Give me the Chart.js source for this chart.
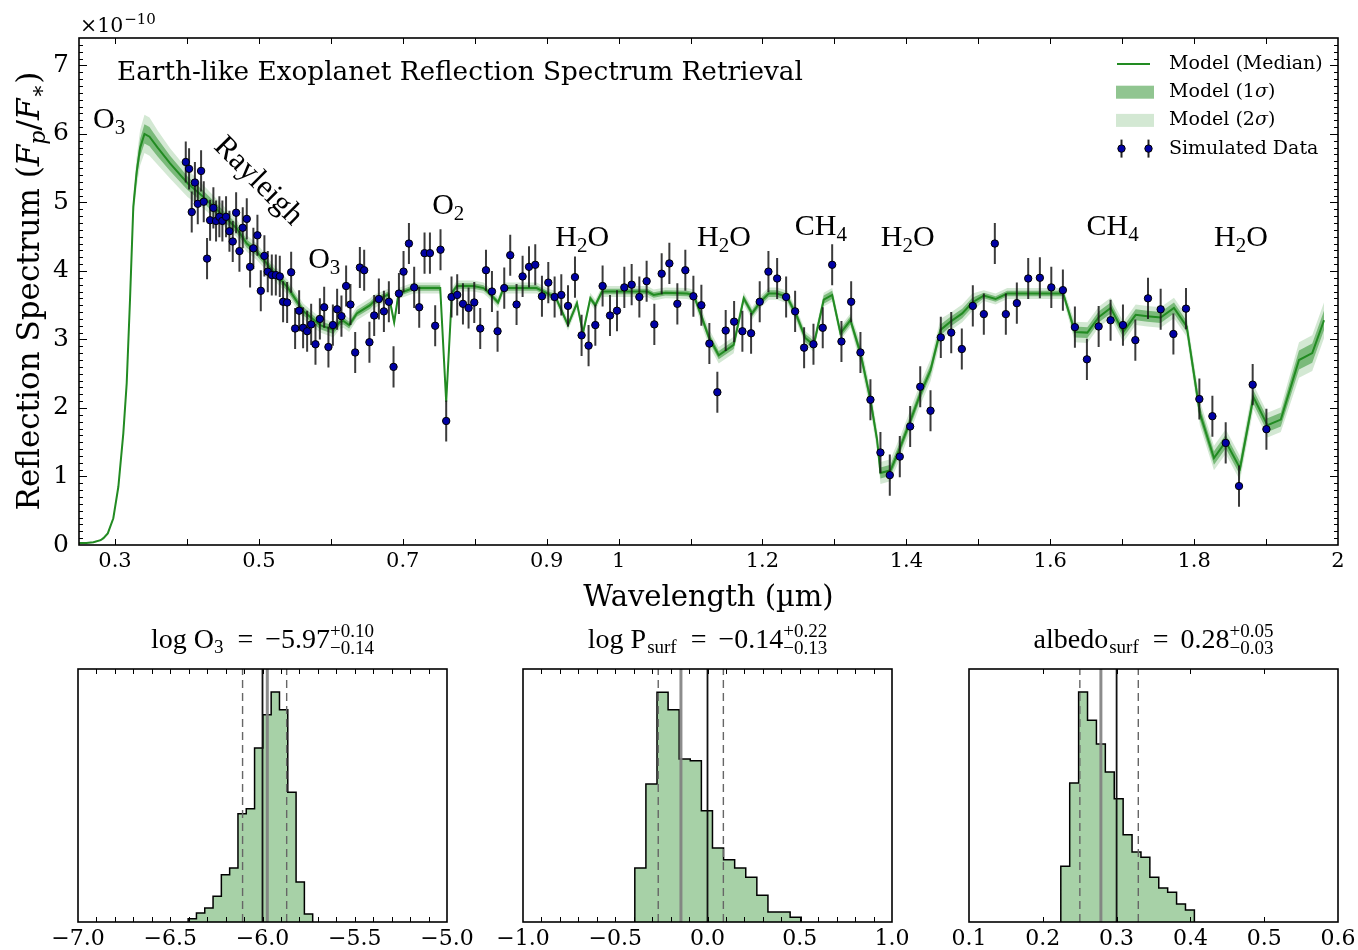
<!DOCTYPE html>
<html><head><meta charset="utf-8">
<script src="https://cdn.jsdelivr.net/npm/chart.js@4.4.1/dist/chart.umd.min.js"></script>
<style>
html,body{margin:0;padding:0;background:#fff;width:1358px;height:950px;overflow:hidden;position:relative;}
canvas{position:absolute;}
</style></head><body>
<canvas id="c0" width="1358" height="615" style="left:0;top:0"></canvas>
<canvas id="h1" width="450" height="360" style="left:38px;top:600px"></canvas>
<canvas id="h2" width="450" height="360" style="left:483px;top:600px"></canvas>
<canvas id="h3" width="450" height="360" style="left:929px;top:600px"></canvas>
<script>
// ---------------- DATA ----------------
const X_TICK_LABELS = [0.3,0.5,0.7,0.9,1,1.2,1.4,1.6,1.8,2];
const Y_TICK_LABELS = [0,1,2,3,4,5,6,7];

// model median (units of 1e-10) and half-widths of 1σ / 2σ bands
const MODEL_WL = [
 0.25,0.26,0.27,0.28,0.284,0.29,
 0.2977,0.3047,0.3116,0.3163,0.3209,0.3255,0.3302,0.335,0.341,0.348,0.3593,0.3766,0.4009,0.4229,0.4693,0.4832,0.4971,0.511,0.5157,0.54,0.562,0.5852,0.6037,
 0.613,0.6176,0.6255,0.6362,0.6408,0.6547,0.6593,
 0.6802,0.6881,0.6941,0.7149,0.7521,
 0.7604,
 0.7684,0.7753,0.7984,0.8123,0.818,0.8325,0.8402,0.886,0.905,0.912,0.9297,0.9422,0.9505,0.9607,0.9677,0.977,1.04,1.0488,1.065,1.0952,1.1044,
 1.1137,1.1253,1.1392,1.16,
 1.174,1.1856,1.1972,1.2087,1.2204,1.2343,
 1.2482,1.2597,1.2713,1.2852,1.2969,1.3084,1.3223,
 1.3362,1.3501,1.3594,1.364,1.378,1.392,1.4058,1.4197,1.4336,1.4475,
 1.4614,1.4777,1.4916,
 1.5077,1.524,1.5403,1.618,
 1.6343,1.6516,1.6677,1.684,1.7016,1.7188,1.735,1.7535,1.772,1.7897,
 1.8081,1.8276,1.8439,1.8638,1.8824,1.9019,1.9205,
 1.9458,1.9642,1.9806];
const MODEL_MED = [
 0.03,0.03,0.04,0.07,0.10,0.17,
 0.39,0.85,1.63,2.36,3.58,4.94,5.45,5.80,6.00,5.96,5.80,5.57,5.28,5.08,4.62,4.40,4.28,4.11,4.04,3.76,3.41,3.21,3.14,
 3.26,3.27,3.21,3.38,3.41,3.50,3.55,
 3.66,3.25,3.67,3.75,3.75,
 2.09,
 3.68,3.78,3.78,3.75,3.70,3.54,3.75,3.75,3.65,3.63,3.21,3.53,3.09,3.60,3.50,3.70,3.70,3.65,3.68,3.67,3.65,
 3.38,3.04,2.77,2.92,
 3.60,3.38,3.55,3.67,3.67,3.62,
 3.33,3.02,2.92,3.58,3.65,3.09,3.28,
 2.80,2.12,1.53,1.05,1.09,1.44,1.82,2.21,2.55,3.14,
 3.26,3.38,3.54,
 3.64,3.59,3.67,3.67,
 3.11,3.10,3.33,3.46,3.11,3.36,3.34,3.32,3.46,3.19,
 1.92,1.27,1.51,1.12,2.16,1.75,1.83,
 2.70,2.80,3.28];
const MODEL_S1 = [
 0.005,0.005,0.005,0.005,0.005,0.008,
 0.01,0.02,0.03,0.04,0.06,0.08,0.11,0.13,0.14,0.14,0.13,0.11,0.10,0.09,0.07,0.06,0.06,0.06,0.06,0.06,0.06,0.06,0.06,
 0.05,0.05,0.05,0.05,0.05,0.05,0.05,
 0.04,0.04,0.04,0.04,0.04,
 0.05,
 0.04,0.04,0.04,0.04,0.04,0.04,0.04,0.04,0.04,0.04,0.04,0.04,0.04,0.04,0.04,0.04,0.04,0.04,0.04,0.04,0.04,
 0.06,0.06,0.06,0.06,
 0.05,0.05,0.05,0.05,0.05,0.05,
 0.06,0.06,0.06,0.06,0.06,0.06,0.06,
 0.08,0.08,0.08,0.08,0.08,0.08,0.08,0.08,0.08,0.08,
 0.07,0.07,0.07,
 0.04,0.04,0.04,0.04,
 0.08,0.08,0.08,0.08,0.08,0.08,0.08,0.08,0.08,0.08,
 0.10,0.10,0.10,0.10,0.10,0.10,0.10,
 0.14,0.14,0.14];
const MODEL_S2 = [
 0.01,0.01,0.01,0.01,0.01,0.015,
 0.02,0.04,0.06,0.08,0.12,0.17,0.22,0.26,0.28,0.28,0.25,0.22,0.20,0.17,0.13,0.12,0.12,0.11,0.11,0.11,0.11,0.11,0.11,
 0.10,0.10,0.10,0.10,0.10,0.10,0.10,
 0.08,0.08,0.08,0.08,0.08,
 0.10,
 0.08,0.08,0.08,0.08,0.08,0.08,0.08,0.08,0.08,0.08,0.08,0.08,0.08,0.08,0.08,0.08,0.08,0.08,0.08,0.08,0.08,
 0.12,0.12,0.12,0.12,
 0.09,0.09,0.09,0.09,0.09,0.09,
 0.10,0.10,0.10,0.10,0.10,0.10,0.10,
 0.16,0.16,0.16,0.16,0.16,0.16,0.16,0.16,0.16,0.16,
 0.13,0.13,0.13,
 0.08,0.08,0.08,0.08,
 0.15,0.15,0.15,0.15,0.15,0.15,0.15,0.15,0.15,0.15,
 0.18,0.18,0.18,0.18,0.18,0.18,0.18,
 0.26,0.26,0.26];

// simulated data
const DATA_WL = [
 0.3984,0.4030,0.4067,0.4111,0.4151,0.4197,0.4234,0.4280,0.4322,0.4368,
 0.4405,0.4451,0.4493,0.4544,0.4591,0.4637,0.4684,0.4730,0.4776,0.4832,
 0.4878,0.4924,0.4980,0.5027,0.5077,0.5124,0.5180,0.5236,0.5291,0.5337,
 0.5393,0.5449,0.5504,0.5560,0.5615,0.5671,0.5727,0.5787,0.5848,0.5908,
 0.5967,0.6029,0.6088,0.6148,0.6213,0.6273,0.6339,0.6404,0.6464,0.6537,
 0.6603,0.6668,0.6738,0.6807,0.6872,0.6947,0.7011,0.7086,0.7159,0.7229,
 0.7303,0.7378,0.7451,0.7525,0.7604,0.7678,0.7757,0.7837,0.7915,0.7994,
 0.8077,0.8157,0.8240,0.8318,0.8411,0.8494,0.8582,0.8666,0.8755,0.8842,
 0.8935,0.9023,0.9111,0.9204,0.9297,0.9394,0.9486,0.9583,0.9677,0.9778,
 0.9881,0.9978,1.0080,1.0182,1.0289,1.0390,1.0497,1.0599,1.0706,1.0817,
 1.0928,1.1040,1.1151,1.1262,1.1373,1.1489,1.1606,1.1721,1.1842,1.1962,
 1.2083,1.2204,1.2329,1.2454,1.2579,1.2709,1.2838,1.2969,1.3098,1.3233,
 1.3362,1.3501,1.3640,1.3770,1.3909,1.4053,1.4193,1.4336,1.4479,1.4624,
 1.4771,1.4924,1.5077,1.5230,1.5383,1.5536,1.5694,1.5856,1.6015,1.6176,
 1.6343,1.6510,1.6673,1.6839,1.7011,1.7183,1.7359,1.7535,1.7712,1.7887,
 1.8073,1.8254,1.8439,1.8624,1.8814,1.9005];
const DATA_VAL = [
 5.59,5.49,4.86,5.29,4.98,5.46,5.01,4.18,4.74,4.92,
 4.73,4.79,4.73,4.79,4.58,4.43,4.85,4.29,4.63,4.76,
 4.06,4.33,4.52,3.71,4.22,3.99,3.94,3.94,3.92,3.55,
 3.54,3.98,3.16,3.42,3.17,3.12,3.22,2.93,3.30,3.47,
 2.89,3.21,3.44,3.34,3.78,3.51,2.81,4.05,4.01,2.96,
 3.35,3.59,3.41,3.55,2.60,3.67,3.99,4.40,3.76,3.47,
 4.26,4.26,3.20,4.31,1.81,3.62,3.65,3.52,3.46,3.54,
 3.16,4.01,3.70,3.12,3.75,4.23,3.51,3.92,4.06,4.09,
 3.63,3.83,3.62,3.65,3.49,3.91,3.06,2.91,3.21,3.78,
 3.35,3.42,3.76,3.80,3.62,3.85,3.22,3.96,4.11,3.52,
 4.01,3.63,3.50,2.94,2.23,3.13,3.26,3.12,3.09,3.55,
 3.99,3.89,3.62,3.41,2.88,2.93,3.17,4.09,2.97,3.55,
 2.81,2.12,1.35,1.02,1.29,1.73,2.31,1.96,3.03,3.10,
 2.86,3.49,3.37,4.40,3.37,3.53,3.89,3.90,3.76,3.72,
 3.18,2.71,3.19,3.28,3.21,2.99,3.60,3.44,3.08,3.45,
 2.13,1.88,1.49,0.86,2.34,1.69];
const DATA_ERR = 0.30;

// posterior histograms (15 bins each, relative counts)
const HIST_YMAX = 759;
const H1 = {lo:-6.403, hi:-5.728, counts:[10,27,42,77,142,162,325,340,522,622,690,637,389,120,24],
            ci:[-6.108,-5.869], median:-5.974, truth:-6.0, xmin:-7, xmax:-5, labels:[-7,-6.5,-6,-5.5,-5]};
const H2 = {lo:-0.394, hi:0.508, counts:[162,414,689,637,489,484,334,222,187,162,134,80,30,30,14],
            ci:[-0.267,0.086], median:-0.144, truth:0.0, xmin:-1, xmax:1, labels:[-1,-0.5,0,0.5,1]};
const H3 = {lo:0.2244, hi:0.4054, counts:[167,417,690,605,534,450,370,262,210,194,134,102,89,54,36],
            ci:[0.2502,0.3294], median:0.2787, truth:0.30, xmin:0.1, xmax:0.6, labels:[0.1,0.2,0.3,0.4,0.5,0.6]};

// ---------------- STYLE ----------------
const DV = "'DejaVu Serif', serif";
const TM = "'Liberation Serif', 'Times New Roman', serif";
const GREEN = '#228B22';
const C1 = 'rgba(34,139,34,0.5)';
const C2 = 'rgba(34,139,34,0.2)';
Chart.defaults.font.family = DV;
Chart.defaults.color = '#000';

function drawRich(ctx, parts, x, y, align) {
  let w = 0;
  for (const p of parts) {
    ctx.font = p.f;
    if (p.stack) p._w = Math.max(ctx.measureText(p.stack[0]).width, ctx.measureText(p.stack[1]).width);
    else p._w = ctx.measureText(p.t).width;
    w += p._w + (p.gb || 0) + (p.ga || 0);
  }
  let cx = align === 'center' ? x - w / 2 : (align === 'right' ? x - w : x);
  ctx.textAlign = 'left';
  for (const p of parts) {
    ctx.font = p.f;
    cx += (p.gb || 0);
    if (p.stack) { ctx.fillText(p.stack[0], cx, y + p.supDy); ctx.fillText(p.stack[1], cx, y + p.subDy); }
    else ctx.fillText(p.t, cx, y + (p.dy || 0));
    cx += p._w + (p.ga || 0);
  }
}

const AF = '30px ' + TM, AS = '21px ' + TM;
const H2O = [{t:'H', f:AF},{t:'2', f:AS, dy:6},{t:'O', f:AF}];
const CH4 = [{t:'CH', f:AF},{t:'4', f:AS, dy:6}];
const O3 = [{t:'O', f:AF},{t:'3', f:AS, dy:6}];
const O2 = [{t:'O', f:AF},{t:'2', f:AS, dy:6}];
const ANNOTATIONS = [
  {parts:O3, wl:0.2695, v:6.09},
  {parts:O3, wl:0.5685, v:4.04},
  {parts:O2, wl:0.7409, v:4.83},
  {parts:H2O, wl:0.9121, v:4.36},
  {parts:H2O, wl:1.1091, v:4.36},
  {parts:CH4, wl:1.2449, v:4.53},
  {parts:H2O, wl:1.3645, v:4.36},
  {parts:CH4, wl:1.6504, v:4.53},
  {parts:H2O, wl:1.8276, v:4.36}
];
const RAYLEIGH = {text:'Rayleigh', wl:0.4989, v:5.31, rot:Math.PI/4};

// ---------------- MAIN CHART ----------------
const line = (wl, vals) => wl.map((w, i) => ({x:w, y:vals[i]}));
const band = (sign, s) => MODEL_WL.map((w, i) => ({x:w, y:MODEL_MED[i] + sign * s[i]}));
const errData = [];
DATA_WL.forEach((w, i) => {
  errData.push({x:w, y:DATA_VAL[i] - DATA_ERR}, {x:w, y:DATA_VAL[i] + DATA_ERR}, {x:w, y:null});
});
const hidden = {borderWidth:0, borderColor:'rgba(0,0,0,0)', pointRadius:0, tension:0};

const mainDecor = {
  id:'mainDecor',
  afterDraw(chart) {
    const {ctx, chartArea:a, scales:{x, y}} = chart;
    ctx.save();
    ctx.fillStyle = '#000'; ctx.strokeStyle = '#000';
    // ticks
    ctx.lineWidth = 1;
    ctx.beginPath();
    for (let i = 3; i < 20; i++) {
      const px = Math.round(x.getPixelForValue(i / 10)) + 0.5;
      ctx.moveTo(px, a.bottom); ctx.lineTo(px, a.bottom - 6);
      ctx.moveTo(px, a.top); ctx.lineTo(px, a.top + 6);
    }
    for (let i = 1; i < 74; i++) {
      const L = i % 10 === 0 ? 8 : 4;
      const py = Math.round(y.getPixelForValue(i / 10)) + 0.5;
      ctx.moveTo(a.left, py); ctx.lineTo(a.left + L, py);
      ctx.moveTo(a.right, py); ctx.lineTo(a.right - L, py);
    }
    ctx.stroke();
    ctx.lineWidth = 1.6;
    ctx.strokeRect(a.left, a.top, a.right - a.left, a.bottom - a.top);

    // offset text
    ctx.textBaseline = 'alphabetic';
    drawRich(ctx, [{t:'\u00d710', f:'20.5px ' + DV}, {t:'\u221210', f:'15px ' + DV, dy:-8, gb:1}], 80, 32, 'left');

    // title
    ctx.font = '26.3px ' + DV;
    ctx.textAlign = 'left';
    ctx.fillText('Earth-like Exoplanet Reflection Spectrum Retrieval', 117, 80);

    // annotations
    for (const an of ANNOTATIONS) {
      drawRich(ctx, an.parts, x.getPixelForValue(an.wl), y.getPixelForValue(an.v), 'left');
    }
    ctx.save();
    ctx.translate(x.getPixelForValue(RAYLEIGH.wl), y.getPixelForValue(RAYLEIGH.v));
    ctx.rotate(RAYLEIGH.rot);
    ctx.font = '31px ' + TM; ctx.textAlign = 'center'; ctx.textBaseline = 'middle';
    ctx.fillText(RAYLEIGH.text, 0, 0);
    ctx.restore();

    // axis titles
    ctx.textBaseline = 'alphabetic';
    ctx.font = '29px ' + DV; ctx.textAlign = 'center';
    ctx.fillText('Wavelength (\u00b5m)', (a.left + a.right) / 2, 606);
    ctx.save();
    ctx.translate(39, 291);
    ctx.rotate(-Math.PI / 2);
    const YF = '31px ' + DV, YI = 'italic 31px ' + DV, YS = 'italic 22px ' + DV;
    drawRich(ctx, [{t:'Reflection Spectrum (', f:YF}, {t:'F', f:YI}, {t:'p', f:YS, dy:6},
                   {t:'/', f:YF}, {t:'F', f:YI}, {t:'\u2217', f:'22px ' + DV, dy:6}, {t:')', f:YF}], 0, 0, 'center');
    ctx.restore();

    // legend
    const LT = 1169, rows = [64, 92.2, 120.4, 148.6];
    ctx.strokeStyle = GREEN; ctx.lineWidth = 2;
    ctx.beginPath(); ctx.moveTo(1117, rows[0]); ctx.lineTo(1150, rows[0]); ctx.stroke();
    ctx.fillStyle = C1; ctx.fillRect(1116, rows[1] - 6.5, 38, 13);
    ctx.fillStyle = C2; ctx.fillRect(1116, rows[2] - 6.5, 38, 13);
    for (const mx of [1121.5, 1148.5]) {
      ctx.strokeStyle = '#222'; ctx.lineWidth = 2;
      ctx.beginPath(); ctx.moveTo(mx, rows[3] - 9); ctx.lineTo(mx, rows[3] + 9); ctx.stroke();
      ctx.beginPath(); ctx.arc(mx, rows[3], 3.7, 0, Math.PI * 2);
      ctx.fillStyle = '#0000a5'; ctx.fill(); ctx.lineWidth = 1; ctx.strokeStyle = '#000'; ctx.stroke();
    }
    ctx.fillStyle = '#000'; ctx.textBaseline = 'middle';
    const LF = '19px ' + DV, LI = 'italic 19px ' + DV;
    drawRich(ctx, [{t:'Model (Median)', f:LF}], LT, rows[0], 'left');
    drawRich(ctx, [{t:'Model (1', f:LF}, {t:'\u03c3', f:LI}, {t:')', f:LF}], LT, rows[1], 'left');
    drawRich(ctx, [{t:'Model (2', f:LF}, {t:'\u03c3', f:LI}, {t:')', f:LF}], LT, rows[2], 'left');
    drawRich(ctx, [{t:'Simulated Data', f:LF}], LT, rows[3], 'left');
    ctx.restore();
  }
};

new Chart(document.getElementById('c0'), {
  type:'line',
  data:{datasets:[
    Object.assign({data:band(-1, MODEL_S2), order:4}, hidden),
    Object.assign({data:band(1, MODEL_S2), order:4, fill:'-1', backgroundColor:C2}, hidden),
    Object.assign({data:band(-1, MODEL_S1), order:3}, hidden),
    Object.assign({data:band(1, MODEL_S1), order:3, fill:'-1', backgroundColor:C1}, hidden),
    {data:line(MODEL_WL, MODEL_MED), borderColor:GREEN, borderWidth:2, pointRadius:0, tension:0, order:2},
    {data:errData, borderColor:'rgba(25,25,25,0.85)', borderWidth:2, pointRadius:0, spanGaps:false, tension:0, order:1},
    {data:line(DATA_WL, DATA_VAL), showLine:false, pointRadius:3.7, pointBackgroundColor:'#0000a5',
     pointBorderColor:'#000', pointBorderWidth:1, order:0}
  ]},
  options:{
    responsive:false, animation:false, events:[],
    layout:{padding:{left:0, right:20, top:38, bottom:0}, autoPadding:false},
    plugins:{legend:{display:false}, tooltip:{enabled:false}},
    scales:{
      x:{type:'linear', min:0.25, max:2.0,
         grid:{display:false, drawTicks:false}, border:{display:false},
         afterBuildTicks:s => { s.ticks = X_TICK_LABELS.map(v => ({value:v})); },
         afterFit:s => { s.height = 70; },
         ticks:{color:'#000', font:{family:DV, size:21}, padding:4, autoSkip:false, maxRotation:0, minRotation:0,
                callback:v => String(v)}},
      y:{type:'linear', min:0, max:7.4,
         grid:{display:false, drawTicks:false}, border:{display:false},
         afterBuildTicks:s => { s.ticks = Y_TICK_LABELS.map(v => ({value:v})); },
         afterFit:s => { s.width = 79; },
         ticks:{color:'#000', font:{family:DV, size:25}, padding:10, autoSkip:false, callback:v => String(v)}}
    }
  },
  plugins:[mainDecor]
});

// ---------------- HISTOGRAMS ----------------
const TT = '28px ' + TM, TS = '19px ' + TM;
const TITLES = [
  [{t:'log O', f:TT}, {t:'3', f:TS, dy:5}, {t:'=', f:TT, gb:14, ga:12}, {t:'\u22125.97', f:TT},
   {stack:['+0.10', '\u22120.14'], f:TS, supDy:-11, subDy:6}],
  [{t:'log P', f:TT}, {t:'surf', f:TS, dy:5, gb:1}, {t:'=', f:TT, gb:14, ga:12}, {t:'\u22120.14', f:TT},
   {stack:['+0.22', '\u22120.13'], f:TS, supDy:-11, subDy:6}],
  [{t:'albedo', f:TT}, {t:'surf', f:TS, dy:5, gb:1}, {t:'=', f:TT, gb:14, ga:12}, {t:'0.28', f:TT},
   {stack:['+0.05', '\u22120.03'], f:TS, supDy:-11, subDy:6}]
];
const fmt1 = v => (v < 0 ? '\u2212' : '') + Math.abs(v).toFixed(1);

function makeHist(id, H, title) {
  const n = H.counts.length;
  const edges = [];
  for (let i = 0; i <= n; i++) edges.push(H.lo + i * (H.hi - H.lo) / n);
  // step outline: horizontal at previous height, then vertical to the next
  const step = [{x:edges[0], y:0}];
  H.counts.forEach((c, i) => step.push({x:edges[i], y:c}));
  step.push({x:edges[n], y:H.counts[n - 1]});
  step.push({x:edges[n], y:0});
  const vline = v => [{x:v, y:0}, {x:v, y:HIST_YMAX}];
  const decor = {
    id:'histDecor',
    afterDraw(chart) {
      const {ctx, chartArea:a, scales:{x}} = chart;
      ctx.save();
      ctx.strokeStyle = '#000'; ctx.lineWidth = 1;
      ctx.beginPath();
      const nt = Math.round((H.xmax - H.xmin) / 0.1);
      for (let i = 1; i < nt; i++) {
        const px = Math.round(x.getPixelForValue(H.xmin + i * 0.1)) + 0.5;
        ctx.moveTo(px, a.bottom); ctx.lineTo(px, a.bottom - 5);
        ctx.moveTo(px, a.top); ctx.lineTo(px, a.top + 5);
      }
      ctx.stroke();
      ctx.lineWidth = 1.6;
      ctx.strokeRect(a.left, a.top, a.right - a.left, a.bottom - a.top);
      ctx.fillStyle = '#000'; ctx.textBaseline = 'alphabetic';
      drawRich(ctx, title, (a.left + a.right) / 2, 48, 'center');
      ctx.restore();
    }
  };
  new Chart(document.getElementById(id), {
    type:'line',
    data:{datasets:[
      {data:vline(H.median), borderColor:'rgba(128,128,128,0.9)', borderWidth:3, pointRadius:0, order:0},
      {data:vline(H.truth), borderColor:'#111', borderWidth:1.8, pointRadius:0, order:1},
      {data:vline(H.ci[0]), borderColor:'#666', borderWidth:1.4, borderDash:[8,5], pointRadius:0, order:2},
      {data:vline(H.ci[1]), borderColor:'#666', borderWidth:1.4, borderDash:[8,5], pointRadius:0, order:2},
      {data:step, stepped:'before', fill:'origin', backgroundColor:'rgba(34,139,34,0.4)',
       borderColor:'#000', borderWidth:1.5, pointRadius:0, order:5}
    ]},
    options:{
      responsive:false, animation:false, events:[],
      layout:{padding:{left:40, right:41, top:69, bottom:0}, autoPadding:false},
      plugins:{legend:{display:false}, tooltip:{enabled:false}},
      scales:{
        x:{type:'linear', min:H.xmin, max:H.xmax,
           grid:{display:false, drawTicks:false}, border:{display:false},
           afterBuildTicks:s => { s.ticks = H.labels.map(v => ({value:v})); },
           afterFit:s => { s.height = 38; },
           ticks:{color:'#000', font:{family:DV, size:22}, padding:4, autoSkip:false, maxRotation:0, minRotation:0,
                  callback:v => fmt1(v)}},
        y:{display:false, min:0, max:HIST_YMAX}
      }
    },
    plugins:[decor]
  });
}
makeHist('h1', H1, TITLES[0]);
makeHist('h2', H2, TITLES[1]);
makeHist('h3', H3, TITLES[2]);
</script>
</body></html>
